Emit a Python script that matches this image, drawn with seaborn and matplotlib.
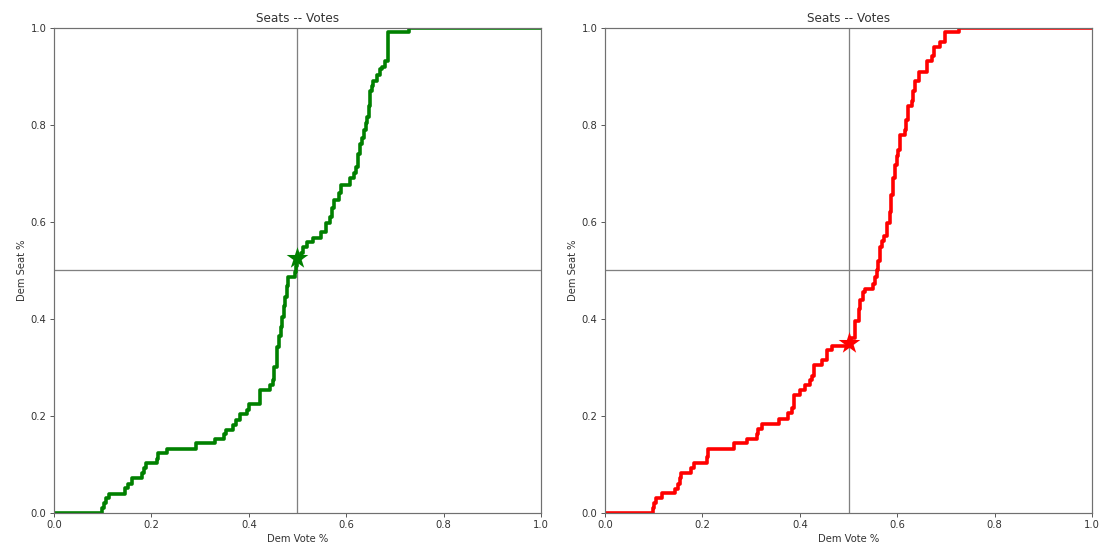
import matplotlib
matplotlib.use("Agg")
import matplotlib.pyplot as plt
import seaborn as sns

# Left panel (green) seats-votes step curve
left_votes = [0.0, 0.098, 0.103, 0.107, 0.112, 0.146, 0.152, 0.160, 0.180, 0.185,
              0.190, 0.211, 0.214, 0.232, 0.291, 0.330, 0.350, 0.354, 0.368, 0.373,
              0.381, 0.397, 0.400, 0.423, 0.444, 0.449, 0.452, 0.457, 0.462, 0.466,
              0.469, 0.472, 0.475, 0.478, 0.481, 0.494, 0.497, 0.500, 0.507, 0.512,
              0.519, 0.532, 0.548, 0.558, 0.567, 0.570, 0.574, 0.586, 0.590, 0.608,
              0.615, 0.621, 0.624, 0.628, 0.632, 0.636, 0.640, 0.642, 0.646, 0.649,
              0.653, 0.656, 0.664, 0.670, 0.673, 0.680, 0.686, 0.729, 1.0]
left_seats = [0.0, 0.011, 0.02, 0.03, 0.04, 0.051, 0.06, 0.072, 0.082, 0.092,
              0.102, 0.112, 0.123, 0.131, 0.144, 0.152, 0.162, 0.171, 0.181, 0.192,
              0.203, 0.213, 0.224, 0.254, 0.264, 0.274, 0.30, 0.343, 0.364, 0.384,
              0.405, 0.426, 0.446, 0.467, 0.487, 0.497, 0.51, 0.525, 0.535, 0.549,
              0.559, 0.566, 0.58, 0.597, 0.61, 0.628, 0.645, 0.659, 0.676, 0.69,
              0.70, 0.714, 0.74, 0.76, 0.773, 0.79, 0.805, 0.817, 0.84, 0.869,
              0.88, 0.89, 0.903, 0.915, 0.92, 0.931, 0.991, 1.0, 1.0]
left_star = (0.5, 0.525)

# Right panel (red) seats-votes step curve
right_votes = [0.0, 0.098, 0.101, 0.105, 0.116, 0.144, 0.150, 0.155, 0.157, 0.177,
               0.183, 0.209, 0.212, 0.264, 0.292, 0.312, 0.315, 0.322, 0.358, 0.375,
               0.384, 0.387, 0.400, 0.410, 0.420, 0.425, 0.430, 0.446, 0.455, 0.467,
               0.498, 0.506, 0.513, 0.521, 0.524, 0.529, 0.534, 0.551, 0.555, 0.558,
               0.561, 0.565, 0.568, 0.572, 0.578, 0.585, 0.587, 0.592, 0.595, 0.599,
               0.602, 0.606, 0.616, 0.618, 0.622, 0.630, 0.633, 0.636, 0.645, 0.662,
               0.672, 0.676, 0.688, 0.698, 0.726, 1.0]
right_seats = [0.0, 0.011, 0.02, 0.03, 0.042, 0.05, 0.06, 0.072, 0.082, 0.092,
               0.102, 0.115, 0.131, 0.144, 0.152, 0.163, 0.173, 0.183, 0.193, 0.206,
               0.216, 0.243, 0.254, 0.264, 0.275, 0.283, 0.304, 0.315, 0.336, 0.344,
               0.352, 0.36, 0.395, 0.42, 0.44, 0.456, 0.462, 0.473, 0.487, 0.50,
               0.52, 0.549, 0.56, 0.57, 0.598, 0.62, 0.656, 0.69, 0.718, 0.735,
               0.748, 0.779, 0.79, 0.81, 0.839, 0.85, 0.87, 0.89, 0.91, 0.931,
               0.942, 0.961, 0.972, 0.991, 1.0, 1.0]
right_star = (0.5, 0.35)

tick_vals = [0.0, 0.2, 0.4, 0.6, 0.8, 1.0]

sns.set_style("ticks")
plt.rcParams["font.family"] = ["DejaVu Sans"]

fig = plt.figure(figsize=(1101 / 72, 548 / 72), dpi=72)
ax1 = fig.add_axes([0.049, 0.064, 0.4424, 0.885])
ax2 = fig.add_axes([0.5495, 0.064, 0.4424, 0.885])

panels = [(ax1, left_votes, left_seats, left_star, "green"),
          (ax2, right_votes, right_seats, right_star, "red")]

for ax, votes, seats, star, col in panels:
    ax.axhline(0.5, color="gray", lw=1.3)
    ax.axvline(0.5, color="gray", lw=1.3)
    sns.lineplot(x=votes, y=seats, ax=ax, color=col, lw=3.6,
                 drawstyle="steps-post", estimator=None, sort=False)
    sns.scatterplot(x=[star[0]], y=[star[1]], ax=ax, color=col, marker="*",
                    s=520, linewidth=0, zorder=5)
    ax.set_xlim(0, 1)
    ax.set_ylim(0, 1)
    ax.set_xticks(tick_vals)
    ax.set_yticks(tick_vals)
    ax.tick_params(labelsize=10, colors="#333333", length=4)
    ax.set_title("Seats -- Votes", fontsize=12, color="#333333")
    ax.set_xlabel("Dem Vote %", fontsize=10, color="#333333")
    ax.set_ylabel("Dem Seat %", fontsize=10, color="#333333")
    for sp in ax.spines.values():
        sp.set_color("#707070")
        sp.set_linewidth(1.2)

fig.savefig("out.png", dpi=72)
